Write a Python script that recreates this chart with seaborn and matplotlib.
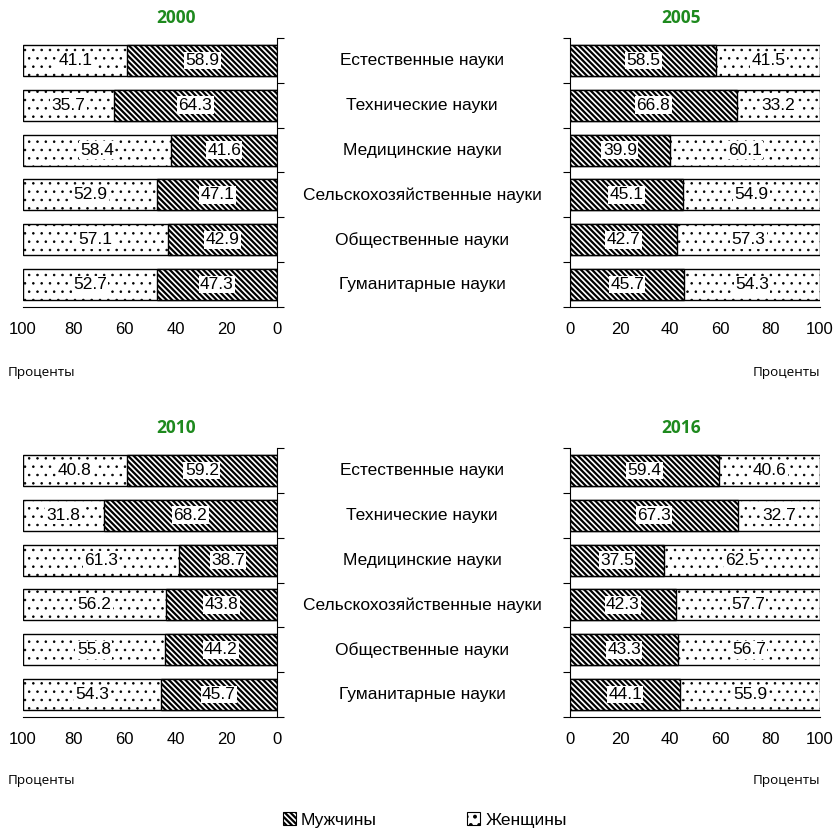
import matplotlib
matplotlib.use("Agg")
import matplotlib.pyplot as plt
import matplotlib.transforms as mtrans
from matplotlib.patches import Patch
import numpy as np
import pandas as pd
import seaborn as sns

categories = ["Естественные науки", "Технические науки", "Медицинские науки",
              "Сельскохозяйственные науки", "Общественные науки", "Гуманитарные науки"]
years = ["2000", "2005", "2010", "2016"]
men_2000 = [58.9, 64.3, 41.6, 47.1, 42.9, 47.3]
women_2000 = [41.1, 35.7, 58.4, 52.9, 57.1, 52.7]
men_2005 = [58.5, 66.8, 39.9, 45.1, 42.7, 45.7]
women_2005 = [41.5, 33.2, 60.1, 54.9, 57.3, 54.3]
men_2010 = [59.2, 68.2, 38.7, 43.8, 44.2, 45.7]
women_2010 = [40.8, 31.8, 61.3, 56.2, 55.8, 54.3]
men_2016 = [59.4, 67.3, 37.5, 42.3, 43.3, 44.1]
women_2016 = [40.6, 32.7, 62.5, 57.7, 56.7, 55.9]
xticks = [0, 20, 40, 60, 80, 100]
legend_labels = ["Мужчины", "Женщины"]
axis_label = "Проценты"

sns.set_theme(style="white")
plt.rcParams['font.family'] = ['Liberation Sans', 'DejaVu Sans']
plt.rcParams['hatch.linewidth'] = 1.6
plt.rcParams['hatch.color'] = 'black'
plt.rcParams['text.color'] = 'black'
plt.rcParams['xtick.color'] = 'black'
plt.rcParams['ytick.color'] = 'black'
plt.rcParams['xtick.labelcolor'] = 'black'

W, H = 837, 830
fig = plt.figure(figsize=(W / 100, H / 100), dpi=100)

def rect(x0, x1, y0, y1):
    return [x0 / W, 1 - y1 / H, (x1 - x0) / W, (y1 - y0) / H]

MEN_HATCH = '\\\\\\\\\\\\'
WOMEN_HATCH = '..'

def set_hlw(patches, lw):
    for p in patches:
        if hasattr(p, 'set_hatch_linewidth'):
            p.set_hatch_linewidth(lw)

panels = [
    ("2000", men_2000, women_2000, rect(23, 277, 38, 307), True, 176, 18, 372),
    ("2005", men_2005, women_2005, rect(570, 820, 38, 307), False, 681, 18, 372),
    ("2010", men_2010, women_2010, rect(23, 277, 448, 717), True, 176, 428, 780),
    ("2016", men_2016, women_2016, rect(570, 820, 448, 717), False, 681, 428, 780),
]

for year, men, women, pos, left, tx, ty, py in panels:
    ax = fig.add_axes(pos)
    df = pd.DataFrame({"cat": categories, "men": men, "women": women})
    df["total"] = df["men"] + df["women"]
    sns.barplot(data=df, y="cat", x="total", orient="h", color="white",
                edgecolor="black", linewidth=1.0, hatch=WOMEN_HATCH, ax=ax, width=0.69)
    n_w = len(ax.patches)
    set_hlw(ax.patches[:n_w], 0.6)
    sns.barplot(data=df, y="cat", x="men", orient="h", color="white",
                edgecolor="black", linewidth=1.0, hatch=MEN_HATCH, ax=ax, width=0.69)
    set_hlw(ax.patches[n_w:], 1.6)
    ax.set_xlim(0, 100)
    if left:
        ax.invert_xaxis()
    ax.set_ylim(len(categories) - 0.5, -0.5)
    ax.set_xlabel("")
    ax.set_ylabel("")
    ax.set_yticks(np.arange(len(categories) + 1) - 0.5)
    ax.set_yticklabels([])
    ax.set_xticks(xticks)
    ax.set_xticklabels([str(t) for t in xticks], fontsize=12)
    ax.tick_params(axis='x', direction='out', length=5, width=0.8, color='black', pad=6,
                   labelcolor='black')
    ax.tick_params(axis='y', direction='out', length=5, width=0.8, color='black',
                   left=not left, right=left, labelleft=False, labelright=False)
    for s in ax.spines.values():
        s.set_visible(False)
    ax.spines['bottom'].set_visible(True)
    ax.spines['bottom'].set_color('black')
    ax.spines['bottom'].set_linewidth(0.8)
    side = 'right' if left else 'left'
    ax.spines[side].set_visible(True)
    ax.spines[side].set_color('black')
    ax.spines[side].set_linewidth(0.8)
    ax.grid(False)
    ax.set_facecolor('none')
    for i, (m, w) in enumerate(zip(men, women)):
        for xc, v in ((m / 2, m), (m + w / 2, w)):
            ax.text(xc, i, f"{v:.1f}", ha='center', va='center', fontsize=12.5,
                    color='black',
                    bbox=dict(boxstyle='square,pad=0.08', fc='white', ec='none'))
    fig.text(tx / W, 1 - ty / H, year, ha='center', va='center', fontsize=12.5,
             fontweight='bold', color='#1e8a1e', family=['Open Sans', 'DejaVu Sans'])
    if left:
        fig.text(8 / W, 1 - py / H, axis_label, ha='left', va='center', fontsize=9.7,
                 family=['Open Sans', 'DejaVu Sans'])
        tr = mtrans.blended_transform_factory(fig.transFigure, ax.transData)
        for i, c in enumerate(categories):
            ax.text(422 / W, i, c, transform=tr, ha='center', va='center', fontsize=12.5)
    else:
        fig.text(820 / W, 1 - py / H, axis_label, ha='right', va='center', fontsize=9.7,
                 family=['Open Sans', 'DejaVu Sans'])

handles = [Patch(facecolor='white', edgecolor='black', hatch=MEN_HATCH, linewidth=0.8),
           Patch(facecolor='white', edgecolor='black', hatch=WOMEN_HATCH, linewidth=0.8)]
fig.legend(handles, legend_labels, loc='center', bbox_to_anchor=(425 / W, 1 - 820 / H),
           ncol=2, frameon=False, fontsize=12.5, handlelength=0.75, handleheight=0.75,
           handletextpad=0.3, columnspacing=5.2)

fig.savefig("out.png", dpi=100)
